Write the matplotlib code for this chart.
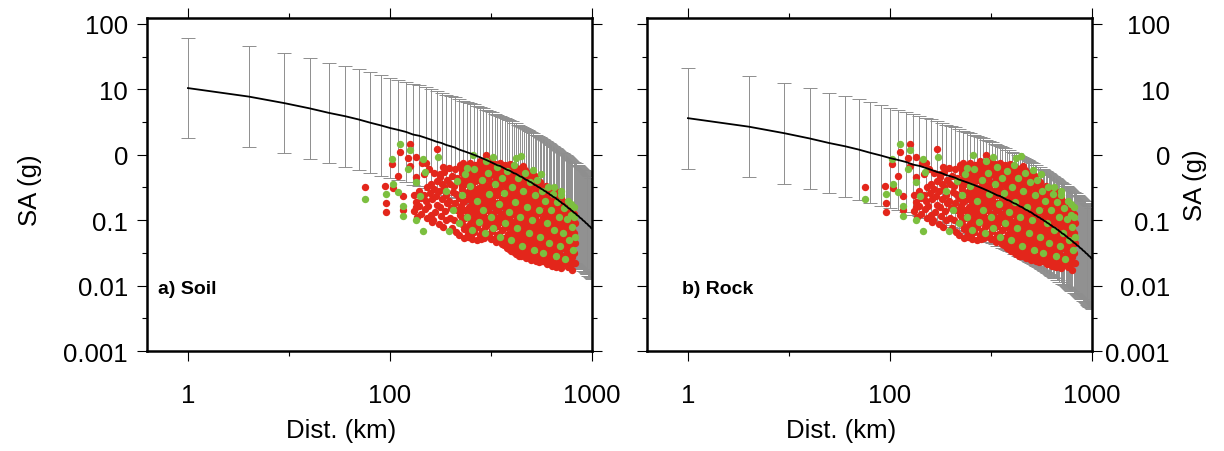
import numpy as np
import matplotlib
matplotlib.use('Agg')
import matplotlib.pyplot as plt
from matplotlib.ticker import FixedLocator, NullFormatter

plt.rcParams['font.family'] = ['Liberation Sans', 'DejaVu Sans']

# ---- data ----
# distance grid of the model curve / error bars (km)
dist_km = [10, 20, 30, 40, 50, 60, 70, 80, 90, 100,
           110, 120, 130, 140, 150, 160, 170, 180, 190, 200,
           210, 220, 230, 240, 250, 260, 270, 280, 290, 300,
           310, 320, 330, 340, 350, 360, 370, 380, 390, 400,
           410, 420, 430, 440, 450, 460, 470, 480, 490, 500,
           510, 520, 530, 540, 550, 560, 570, 580, 590, 600,
           610, 620, 630, 640, 650, 660, 670, 680, 690, 700,
           710, 720, 730, 740, 750, 760, 770, 780, 790, 800,
           810, 820, 830, 840, 850, 860, 870, 880, 890, 900,
           910, 920, 930, 940, 950, 960, 970, 980, 990, 1000]

# log10 of median SA (g)
soil_median_log = [1.02, 0.89, 0.79, 0.71, 0.64, 0.59, 0.54, 0.49, 0.45, 0.41,
                   0.38, 0.35, 0.31, 0.29, 0.26, 0.23, 0.20, 0.18, 0.15, 0.13,
                   0.11, 0.08, 0.06, 0.04, 0.02, 0.00, -0.02, -0.04, -0.06, -0.08,
                   -0.10, -0.12, -0.14, -0.16, -0.17, -0.19, -0.21, -0.23, -0.24, -0.26,
                   -0.28, -0.29, -0.31, -0.33, -0.34, -0.36, -0.38, -0.39, -0.41, -0.42,
                   -0.44, -0.46, -0.47, -0.49, -0.50, -0.52, -0.53, -0.55, -0.56, -0.58,
                   -0.59, -0.61, -0.62, -0.64, -0.65, -0.66, -0.68, -0.69, -0.71, -0.72,
                   -0.74, -0.75, -0.76, -0.78, -0.79, -0.81, -0.82, -0.83, -0.85, -0.86,
                   -0.88, -0.89, -0.90, -0.92, -0.93, -0.94, -0.96, -0.97, -0.98, -1.00,
                   -1.01, -1.02, -1.04, -1.05, -1.06, -1.08, -1.09, -1.10, -1.12, -1.13]

rock_median_log = [0.56, 0.43, 0.33, 0.25, 0.18, 0.13, 0.08, 0.03, -0.01, -0.05,
                   -0.08, -0.11, -0.15, -0.17, -0.20, -0.23, -0.26, -0.28, -0.31, -0.33,
                   -0.35, -0.38, -0.40, -0.42, -0.44, -0.46, -0.48, -0.50, -0.52, -0.54,
                   -0.56, -0.58, -0.60, -0.62, -0.63, -0.65, -0.67, -0.69, -0.70, -0.72,
                   -0.74, -0.75, -0.77, -0.79, -0.80, -0.82, -0.84, -0.85, -0.87, -0.88,
                   -0.90, -0.92, -0.93, -0.95, -0.96, -0.98, -0.99, -1.01, -1.02, -1.04,
                   -1.05, -1.07, -1.08, -1.10, -1.11, -1.12, -1.14, -1.15, -1.17, -1.18,
                   -1.20, -1.21, -1.22, -1.24, -1.25, -1.27, -1.28, -1.29, -1.31, -1.32,
                   -1.34, -1.35, -1.36, -1.38, -1.39, -1.40, -1.42, -1.43, -1.44, -1.46,
                   -1.47, -1.48, -1.50, -1.51, -1.52, -1.54, -1.55, -1.56, -1.58, -1.59]

# +/- one standard deviation, log10 units
sigma_log = 0.77

# observed records (distance km, log10 SA g) - same records on both panels
red_points = [
    (75, -0.49), (95, -0.48), (96, -0.73), (96, -0.87), (102, -0.14), (104, -0.51),
    (109, -0.32), (112, 0.05), (116, -0.63), (116, -0.84), (123, -0.05), (126, -0.17),
    (126, 0.17), (135, -0.04), (135, -0.34), (135, -0.80), (144, -0.12), (151, -0.13),
    (170, 0.09), (177, -0.34), (184, -0.19), (231, -0.12), (244, -1.26), (299, -0.01),
    (453, -0.17), (548, -0.45), (673, -0.57), (750, -0.87), (793, -0.83),
    (131, -0.62), (135, -0.72), (132, -0.86), (136, -0.95),
    (139, -0.55), (143, -0.66), (140, -0.78), (142, -0.90),
    (148, -0.30), (152, -0.50), (147, -0.62), (151, -0.71), (149, -0.83), (153, -0.97),
    (156, -0.22), (160, -0.45), (157, -0.58), (161, -0.68), (155, -0.79), (159, -0.92), (162, -1.02),
    (166, -0.28), (170, -0.40), (165, -0.52), (169, -0.63), (171, -0.76), (167, -0.88), (164, -0.99),
    (176, -0.30), (180, -0.44), (175, -0.55), (181, -0.67), (177, -0.80), (179, -0.93), (174, -1.06),
    (186, -0.26), (191, -0.38), (185, -0.50), (189, -0.61), (192, -0.74), (187, -0.86), (190, -1.00), (184, -1.10),
    (197, -0.20), (203, -0.33), (199, -0.45), (204, -0.57), (196, -0.70), (201, -0.82), (198, -0.96), (202, -1.12),
    (209, -0.22), (214, -0.36), (208, -0.48), (213, -0.60), (210, -0.73), (215, -0.85), (207, -1.00), (212, -1.18),
    (221, -0.16), (226, -0.28), (222, -0.41), (227, -0.53), (220, -0.66), (225, -0.78), (223, -0.92), (228, -1.06), (219, -1.22),
    (234, -0.20), (240, -0.32), (236, -0.45), (239, -0.58), (233, -0.70), (238, -0.84), (235, -0.97), (241, -1.12), (232, -1.27),
    (248, -0.12), (254, -0.25), (249, -0.37), (253, -0.49), (247, -0.61), (255, -0.74), (250, -0.87), (252, -1.00), (246, -1.14), (256, -1.28),
    (263, -0.15), (269, -0.27), (264, -0.40), (268, -0.52), (262, -0.64), (270, -0.77), (265, -0.90), (267, -1.03), (261, -1.18), (271, -1.30),
    (279, -0.10), (285, -0.21), (280, -0.33), (284, -0.45), (278, -0.57), (286, -0.68), (281, -0.80), (283, -0.92), (277, -1.05), (287, -1.17), (282, -1.29),
    (296, -0.13), (302, -0.24), (297, -0.36), (301, -0.48), (295, -0.60), (303, -0.72), (298, -0.84), (300, -0.97), (294, -1.10), (304, -1.24),
    (313, -0.09), (319, -0.20), (314, -0.31), (318, -0.43), (312, -0.55), (320, -0.66), (315, -0.78), (317, -0.90), (311, -1.02), (321, -1.15), (316, -1.28),
    (332, -0.14), (338, -0.25), (333, -0.37), (337, -0.49), (331, -0.61), (339, -0.73), (334, -0.85), (336, -0.97), (330, -1.10), (340, -1.22), (335, -1.33),
    (351, -0.12), (358, -0.22), (353, -0.33), (357, -0.44), (350, -0.56), (359, -0.67), (354, -0.79), (356, -0.91), (349, -1.03), (360, -1.15), (352, -1.27), (357, -1.37),
    (372, -0.16), (380, -0.27), (374, -0.39), (378, -0.50), (371, -0.62), (381, -0.73), (375, -0.85), (377, -0.97), (370, -1.09), (382, -1.21), (373, -1.33), (379, -1.42),
    (394, -0.14), (402, -0.25), (396, -0.36), (400, -0.47), (392, -0.58), (404, -0.69), (397, -0.80), (399, -0.92), (391, -1.04), (405, -1.16), (395, -1.28), (401, -1.40), (398, -1.47),
    (418, -0.18), (426, -0.29), (420, -0.40), (424, -0.51), (416, -0.62), (428, -0.73), (421, -0.85), (423, -0.96), (415, -1.08), (429, -1.20), (419, -1.32), (425, -1.44), (422, -1.52),
    (443, -0.20), (452, -0.31), (445, -0.42), (449, -0.53), (440, -0.64), (454, -0.75), (446, -0.86), (448, -0.97), (439, -1.08), (455, -1.19), (444, -1.31), (450, -1.43), (447, -1.55),
    (468, -0.24), (478, -0.35), (471, -0.46), (475, -0.57), (466, -0.68), (480, -0.79), (472, -0.90), (474, -1.01), (465, -1.12), (481, -1.23), (470, -1.35), (476, -1.47), (473, -1.58),
    (496, -0.28), (507, -0.39), (499, -0.50), (503, -0.61), (494, -0.72), (509, -0.83), (500, -0.94), (502, -1.05), (492, -1.16), (510, -1.27), (497, -1.38), (505, -1.50), (501, -1.61),
    (525, -0.33), (537, -0.44), (528, -0.55), (534, -0.66), (522, -0.77), (540, -0.88), (530, -0.99), (532, -1.10), (521, -1.21), (541, -1.32), (527, -1.43), (535, -1.54), (531, -1.63),
    (556, -0.42), (569, -0.53), (559, -0.64), (565, -0.75), (553, -0.86), (571, -0.97), (561, -1.08), (563, -1.19), (552, -1.30), (572, -1.41), (558, -1.52), (566, -1.63),
    (589, -0.48), (603, -0.59), (593, -0.70), (599, -0.81), (586, -0.92), (606, -1.03), (595, -1.14), (597, -1.25), (585, -1.36), (607, -1.47), (592, -1.58), (600, -1.67),
    (624, -0.52), (639, -0.63), (628, -0.74), (634, -0.85), (620, -0.96), (642, -1.07), (630, -1.18), (632, -1.29), (619, -1.40), (643, -1.51), (627, -1.62), (635, -1.70),
    (660, -0.62), (676, -0.73), (664, -0.84), (671, -0.95), (657, -1.06), (679, -1.17), (667, -1.28), (669, -1.39), (656, -1.50), (680, -1.61), (665, -1.71),
    (700, -0.66), (717, -0.77), (704, -0.88), (712, -0.99), (697, -1.10), (720, -1.21), (707, -1.32), (709, -1.43), (696, -1.54), (721, -1.65), (705, -1.73),
    (741, -0.72), (760, -0.83), (746, -0.94), (754, -1.05), (738, -1.16), (762, -1.27), (749, -1.38), (751, -1.49), (737, -1.60), (758, -1.70),
    (785, -0.80), (803, -0.91), (790, -1.02), (798, -1.13), (782, -1.24), (806, -1.35), (793, -1.46), (795, -1.57), (781, -1.68), (800, -1.76),
    (815, -0.90), (825, -1.05), (818, -1.20), (826, -1.35), (816, -1.50), (823, -1.65),
    # records between the columns above
    (228, -0.24), (233, -0.35), (227, -0.47), (232, -0.59), (229, -0.72), (231, -0.85), (226, -0.99), (233, -1.14),
    (242, -0.18), (247, -0.30), (241, -0.43), (246, -0.55), (243, -0.67), (245, -0.80), (240, -0.93), (247, -1.07), (244, -1.21),
    (255, -0.20), (261, -0.32), (256, -0.44), (260, -0.58), (254, -0.70), (259, -0.83), (257, -0.96), (262, -1.10), (253, -1.24),
    (271, -0.16), (277, -0.27), (272, -0.39), (276, -0.51), (270, -0.63), (278, -0.74), (273, -0.86), (275, -0.98), (269, -1.11), (279, -1.23),
    (287, -0.18), (294, -0.30), (288, -0.42), (292, -0.54), (286, -0.66), (295, -0.78), (289, -0.90), (291, -1.03), (285, -1.16), (293, -1.27),
    (304, -0.15), (311, -0.26), (305, -0.37), (309, -0.49), (302, -0.61), (312, -0.72), (306, -0.84), (308, -0.96), (301, -1.08), (310, -1.21),
    (322, -0.19), (330, -0.31), (324, -0.43), (328, -0.55), (321, -0.67), (331, -0.79), (325, -0.91), (327, -1.03), (320, -1.16), (329, -1.28),
    (341, -0.17), (349, -0.28), (343, -0.39), (347, -0.50), (340, -0.62), (350, -0.73), (344, -0.85), (346, -0.97), (339, -1.09), (348, -1.21), (345, -1.32),
    (361, -0.21), (369, -0.33), (363, -0.45), (367, -0.56), (360, -0.68), (370, -0.79), (364, -0.91), (366, -1.03), (359, -1.15), (368, -1.27), (365, -1.38),
    (383, -0.20), (391, -0.31), (385, -0.42), (389, -0.53), (381, -0.64), (392, -0.75), (386, -0.86), (388, -0.98), (380, -1.10), (390, -1.22), (384, -1.34), (387, -1.44),
    (405, -0.23), (415, -0.34), (408, -0.45), (412, -0.56), (404, -0.67), (416, -0.79), (409, -0.90), (411, -1.02), (403, -1.14), (414, -1.26), (407, -1.38), (410, -1.49),
    (429, -0.25), (439, -0.36), (432, -0.47), (436, -0.58), (427, -0.69), (440, -0.80), (433, -0.91), (435, -1.02), (426, -1.14), (438, -1.25), (431, -1.37), (437, -1.49), (434, -1.54),
    (455, -0.29), (466, -0.40), (458, -0.51), (462, -0.62), (452, -0.73), (467, -0.84), (459, -0.95), (461, -1.06), (451, -1.17), (465, -1.29), (457, -1.41), (463, -1.52),
    (481, -0.33), (493, -0.44), (484, -0.55), (489, -0.66), (479, -0.77), (495, -0.88), (486, -0.99), (488, -1.10), (477, -1.21), (492, -1.32), (483, -1.44), (490, -1.56),
    (510, -0.38), (523, -0.49), (513, -0.60), (518, -0.71), (507, -0.82), (524, -0.93), (515, -1.04), (517, -1.15), (506, -1.26), (521, -1.37), (512, -1.48), (519, -1.59),
    (540, -0.47), (553, -0.58), (543, -0.69), (549, -0.80), (537, -0.91), (555, -1.02), (545, -1.13), (547, -1.24), (536, -1.35), (551, -1.46), (542, -1.57), (548, -1.64),
    (572, -0.53), (587, -0.64), (576, -0.75), (582, -0.86), (569, -0.97), (589, -1.08), (578, -1.19), (580, -1.30), (568, -1.41), (585, -1.52), (575, -1.63),
    (606, -0.57), (621, -0.68), (610, -0.79), (616, -0.90), (603, -1.01), (623, -1.12), (612, -1.23), (614, -1.34), (602, -1.45), (619, -1.56), (609, -1.66),
    (641, -0.67), (658, -0.78), (646, -0.89), (652, -1.00), (638, -1.11), (660, -1.22), (648, -1.33), (650, -1.44), (637, -1.55), (655, -1.66),
    (680, -0.71), (697, -0.82), (685, -0.93), (691, -1.04), (677, -1.15), (699, -1.26), (687, -1.37), (689, -1.48), (676, -1.59), (694, -1.69),
    (720, -0.77), (739, -0.88), (725, -0.99), (732, -1.10), (717, -1.21), (741, -1.32), (728, -1.43), (730, -1.54), (716, -1.65),
    (763, -0.85), (782, -0.96), (768, -1.07), (776, -1.18), (760, -1.29), (784, -1.40), (771, -1.51), (774, -1.62), (759, -1.72),
]

green_points = [
    (75, -0.68), (96, -0.60), (102, -0.07), (104, -0.45), (110, -0.57), (112, 0.17),
    (116, -0.78), (116, -0.94), (123, -0.21), (126, 0.08), (135, -0.42), (135, -1.00),
    (141, -0.63), (145, -0.07), (146, -1.16), (149, -0.27), (173, -0.04), (195, -1.16),
    (258, 0.00), (324, -0.04), (447, -0.02), (512, -0.24),
    (190, -0.55), (205, -0.85), (215, -0.40), (220, -1.05), (228, -0.62), (235, -0.30),
    (240, -0.95), (248, -0.48), (255, -1.15), (262, -0.22), (270, -0.70), (276, -1.02),
    (285, -0.38), (290, -0.85), (296, -1.20), (305, -0.28), (310, -0.60), (318, -0.95),
    (322, -1.12), (330, -0.45), (338, -0.18), (345, -0.75), (350, -1.25), (360, -0.35),
    (365, -0.58), (372, -1.05), (380, -0.25), (388, -0.88), (395, -1.30), (402, -0.50),
    (410, -0.15), (418, -0.72), (425, -1.12), (432, -0.35), (440, -0.95), (452, -1.40),
    (458, -0.55), (465, -0.28), (478, -0.80), (485, -1.20), (492, -0.42), (505, -1.00),
    (515, -1.45), (522, -0.62), (535, -0.38), (545, -0.85), (552, -1.25), (565, -0.55),
    (575, -1.50), (585, -0.70), (598, -1.05), (605, -0.50), (615, -1.35), (625, -0.85),
    (640, -0.60), (648, -1.15), (660, -1.55), (672, -0.72), (685, -0.95), (695, -1.40),
    (705, -0.62), (715, -1.20), (728, -0.82), (738, -1.60), (748, -0.98), (760, -0.70),
    (772, -1.30), (785, -0.92), (795, -1.10), (805, -1.45), (815, -0.95), (820, -1.25),
    (812, -0.80), (240, -0.20), (300, -0.10), (420, -0.05), (560, -0.30), (650, -0.50),
    (700, -0.55), (790, -0.75),
]

x_ticks = [10, 100, 1000]
x_tick_labels = ['1', '100', '1000']
x_minor = [10 ** 1.5, 10 ** 2.5]
y_ticks = [0.001, 0.01, 0.1, 1, 10, 100]
y_tick_labels = ['0.001', '0.01', '0.1', '0', '10', '100']
y_minor = [10 ** -2.5, 10 ** -1.5, 10 ** -0.5, 10 ** 0.5, 10 ** 1.5]
panel_titles = ['a) Soil', 'b) Rock']

RED = '#e3261b'
GREEN = '#7cbf3f'
BAR_GREY = '#8e8e8e'
FS = 18.5


def draw_panel(ax, median_log, title, title_x):
    d = np.array(dist_km, dtype=float)
    m = np.array(median_log)
    med = 10 ** m
    err_lo = med - 10 ** (m - sigma_log)
    err_hi = 10 ** (m + sigma_log) - med
    ax.errorbar(d, med, yerr=[err_lo, err_hi], fmt='none', ecolor=BAR_GREY,
                elinewidth=0.7, capsize=4.7, capthick=0.7, zorder=1)

    rd, rs = zip(*red_points)
    ax.plot(rd, 10 ** np.array(rs), 'o', ms=5.3, mfc=RED, mec='none', zorder=2)
    gd, gs = zip(*green_points)
    ax.plot(gd, 10 ** np.array(gs), 'o', ms=5.3, mfc=GREEN, mec='none', zorder=3)

    ax.plot(d, med, color='black', lw=1.3, zorder=4)

    ax.set_xscale('log')
    ax.set_yscale('log')
    ax.set_xlim(6.27, 1000)
    ax.set_ylim(0.001, 123.5)

    ax.xaxis.set_major_locator(FixedLocator(x_ticks))
    ax.xaxis.set_minor_locator(FixedLocator(x_minor))
    ax.set_xticklabels(x_tick_labels)
    ax.xaxis.set_minor_formatter(NullFormatter())
    ax.yaxis.set_major_locator(FixedLocator(y_ticks))
    ax.yaxis.set_minor_locator(FixedLocator(y_minor))
    ax.set_yticklabels(y_tick_labels)
    ax.yaxis.set_minor_formatter(NullFormatter())

    ax.tick_params(which='both', direction='out', top=True, right=True,
                   width=0.8, color='black', labelsize=FS)
    ax.tick_params(which='major', length=7.2)
    ax.tick_params(which='minor', length=3.6)
    ax.tick_params(axis='x', which='major', pad=15.5)
    for sp in ax.spines.values():
        sp.set_linewidth(1.8)

    ax.set_xlabel('Dist. (km)', fontsize=FS)
    ax.xaxis.set_label_coords(0.436, -0.201)
    ax.text(title_x, 0.174, title, transform=ax.transAxes, fontsize=14,
            fontweight='bold', va='baseline', ha='left', zorder=5)


fig = plt.figure(figsize=(12.24, 4.52), dpi=100)
ax1 = fig.add_axes([147 / 1224, 100 / 452, 445 / 1224, 333 / 452])
ax2 = fig.add_axes([647 / 1224, 100 / 452, 445 / 1224, 333 / 452])

draw_panel(ax1, soil_median_log, panel_titles[0], 0.025)
draw_panel(ax2, rock_median_log, panel_titles[1], 0.079)

ax1.tick_params(axis='y', which='major', pad=6.5)
ax1.set_ylabel('SA (g)', fontsize=FS)
ax1.yaxis.set_label_coords(-0.236, 0.486)

ax2.tick_params(axis='y', labelleft=False, labelright=True)
ax2.tick_params(axis='y', which='major', pad=49)
for tick in ax2.yaxis.get_major_ticks():
    tick.label2.set_horizontalalignment('right')
ax2.yaxis.set_label_position('right')
ax2.set_ylabel('SA (g)', fontsize=FS)
ax2.yaxis.set_label_coords(1.204, 0.5)

fig.savefig('out.png', dpi=100)
